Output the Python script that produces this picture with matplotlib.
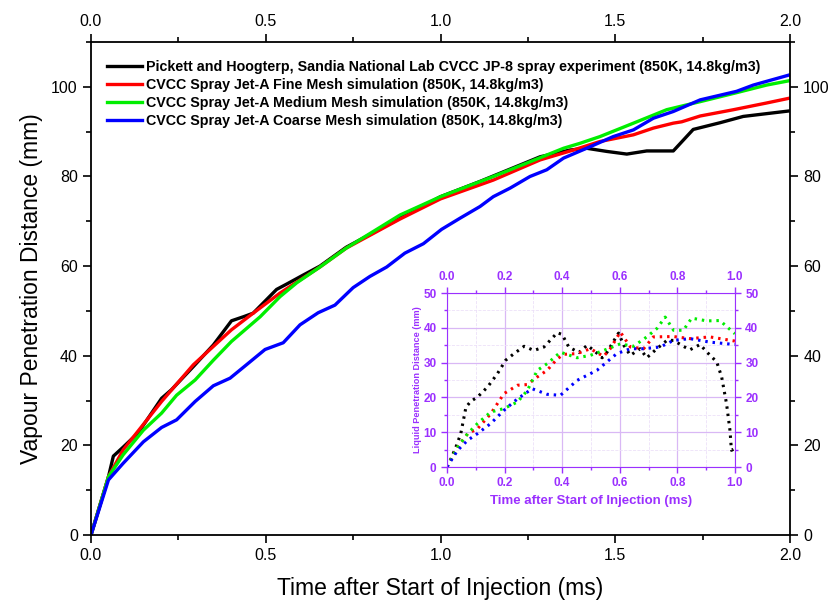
import numpy as np
import matplotlib
matplotlib.use("Agg")
import matplotlib.pyplot as plt
from matplotlib.ticker import MultipleLocator, FormatStrFormatter

plt.rcParams['font.family'] = ['Liberation Sans', 'DejaVu Sans']

# vapour penetration (main axes)
exp_t = [0.0, 0.05, 0.064, 0.092, 0.135, 0.202, 0.23, 0.293, 0.35, 0.402, 0.436, 0.464, 0.531, 0.56,
         0.607, 0.655, 0.73, 0.884, 1.0, 1.113, 1.285, 1.37, 1.418, 1.475, 1.533, 1.59, 1.666,
         1.723, 1.8, 1.866, 1.995]
exp_v = [0.0, 13.0, 17.6, 19.6, 22.8, 30.5, 32.4, 37.6, 42.4, 47.8, 48.7, 49.5, 54.8, 56.0,
         58.0, 60.0, 64.2, 70.7, 75.5, 78.9, 84.4, 85.9, 86.3, 85.6, 85.0, 85.7, 85.7,
         90.5, 92.0, 93.4, 94.6]

fine_t = [0.0, 0.05, 0.092, 0.202, 0.293, 0.402, 0.464, 0.541, 0.655, 0.73, 0.884, 1.0, 1.151,
          1.285, 1.38, 1.456, 1.552, 1.609, 1.666, 1.69, 1.743, 1.838, 1.933, 2.0]
fine_v = [0.0, 13.0, 19.0, 29.8, 38.0, 45.8, 49.5, 54.0, 59.8, 64.0, 70.5, 75.0, 79.2,
          83.7, 85.9, 87.8, 89.3, 90.8, 91.9, 92.2, 93.5, 94.9, 96.4, 97.5]

med_t = [0.0, 0.05, 0.092, 0.15, 0.202, 0.245, 0.298, 0.35, 0.402, 0.484, 0.541, 0.589, 0.655,
         0.73, 0.884, 1.0, 1.151, 1.247, 1.352, 1.399, 1.456, 1.552, 1.647, 1.743, 1.847, 1.933, 2.0]
med_v = [0.0, 13.0, 17.9, 23.4, 27.2, 31.2, 34.6, 39.0, 43.2, 48.7, 53.2, 56.3, 59.8,
         64.0, 71.4, 75.5, 80.0, 83.0, 86.3, 87.4, 88.9, 91.9, 94.9, 96.7, 98.7, 100.4, 101.4]

coarse_t = [0.0, 0.05, 0.092, 0.15, 0.202, 0.245, 0.298, 0.35, 0.398, 0.445, 0.498, 0.55, 0.598,
            0.65, 0.698, 0.75, 0.798, 0.846, 0.898, 0.951, 1.003, 1.056, 1.113, 1.151, 1.199,
            1.256, 1.304, 1.352, 1.418, 1.494, 1.552, 1.609, 1.666, 1.743, 1.847, 1.895, 2.0]
coarse_v = [0.0, 12.3, 16.0, 20.8, 24.0, 25.7, 29.8, 33.3, 35.0, 38.0, 41.4, 42.9, 46.9,
            49.6, 51.3, 55.2, 57.7, 59.8, 62.9, 65.0, 68.2, 70.7, 73.3, 75.5, 77.4,
            80.0, 81.5, 84.1, 86.3, 88.9, 90.4, 93.0, 94.5, 97.1, 99.0, 100.4, 102.7]

labels = ["Pickett and Hoogterp, Sandia National Lab CVCC JP-8 spray experiment (850K, 14.8kg/m3)",
          "CVCC Spray Jet-A Fine Mesh simulation (850K, 14.8kg/m3)",
          "CVCC Spray Jet-A Medium Mesh simulation (850K, 14.8kg/m3)",
          "CVCC Spray Jet-A Coarse Mesh simulation (850K, 14.8kg/m3)"]
colors = ["black", "#ff0000", "#00ee00", "#0000ff"]

# liquid penetration (inset)
liq_exp_t = [0.0, 0.014, 0.031, 0.048, 0.066, 0.083, 0.106, 0.141, 0.175, 0.204, 0.233, 0.268, 0.302,
             0.337, 0.383, 0.4, 0.423, 0.458, 0.487, 0.51, 0.539, 0.556, 0.579, 0.596, 0.614, 0.637,
             0.671, 0.694, 0.729, 0.764, 0.787, 0.821, 0.844, 0.879, 0.908, 0.937, 0.954, 0.971,
             0.983, 0.988, 1.0]
liq_exp_v = [0.0, 2.4, 5.7, 9.6, 17.2, 18.9, 20.1, 23.0, 26.8, 30.7, 32.6, 34.7, 33.5,
             34.5, 38.6, 38.1, 34.5, 32.9, 35.0, 33.5, 31.4, 33.0, 36.2, 38.5, 35.0, 32.1,
             34.0, 31.4, 34.0, 36.4, 36.4, 34.7, 33.7, 35.2, 32.6, 30.2, 25.9, 18.2,
             10.5, 4.8, 5.3]
liq_fine_t = [0.0, 0.037, 0.072, 0.106, 0.152, 0.198, 0.245, 0.279, 0.314, 0.348, 0.383, 0.406, 0.452,
              0.498, 0.544, 0.567, 0.602, 0.637, 0.683, 0.717, 0.787, 0.844, 0.913, 1.0]
liq_fine_v = [0.0, 5.7, 9.6, 11.0, 15.3, 21.1, 23.5, 23.7, 25.9, 27.8, 31.1, 32.4, 32.6,
              34.0, 31.8, 34.0, 38.8, 34.5, 34.0, 37.4, 37.5, 36.9, 37.4, 36.2]
liq_med_t = [0.0, 0.037, 0.072, 0.106, 0.152, 0.198, 0.245, 0.279, 0.314, 0.348, 0.394, 0.452, 0.498,
             0.544, 0.602, 0.648, 0.694, 0.729, 0.758, 0.787, 0.821, 0.85, 0.902, 0.948, 1.0]
liq_med_v = [0.0, 5.7, 9.6, 12.5, 15.8, 16.8, 18.7, 22.0, 27.8, 29.7, 33.0, 31.4, 32.1,
             33.5, 35.4, 34.7, 37.4, 39.8, 43.1, 39.3, 39.3, 42.8, 42.0, 42.1, 38.3]
liq_coarse_t = [0.0, 0.037, 0.072, 0.106, 0.152, 0.198, 0.245, 0.296, 0.348, 0.394, 0.452, 0.521, 0.59,
                0.637, 0.683, 0.741, 0.787, 0.844, 0.913, 1.0]
liq_coarse_v = [0.0, 4.8, 7.7, 9.6, 12.5, 16.3, 19.6, 22.5, 20.9, 20.6, 24.9, 27.8, 32.6,
                34.0, 34.0, 34.5, 36.4, 36.9, 35.9, 35.2]

fig = plt.figure(figsize=(8.37, 6.04), dpi=100)
ax = fig.add_axes([0.1087, 0.1142, 0.8352, 0.8162])

for t, v, lab, c in zip([exp_t, fine_t, med_t, coarse_t], [exp_v, fine_v, med_v, coarse_v], labels, colors):
    ax.plot(t, v, color=c, lw=2.4, label=lab)

ax.set_xlim(0, 2.0)
ax.set_ylim(0, 110)
ax.xaxis.set_major_locator(MultipleLocator(0.5))
ax.xaxis.set_minor_locator(MultipleLocator(0.25))
ax.yaxis.set_major_locator(MultipleLocator(20))
ax.yaxis.set_minor_locator(MultipleLocator(10))
ax.tick_params(which='both', direction='out', top=True, right=True,
               labeltop=True, labelright=True, labelsize=11.5, width=1.2)
ax.tick_params(which='major', length=6)
ax.tick_params(which='minor', length=3.5)
ax.xaxis.set_major_formatter(FormatStrFormatter('%.1f'))
for s in ax.spines.values():
    s.set_linewidth(1.3)
ax.set_xlabel("Time after Start of Injection (ms)", fontsize=16.5, labelpad=10)
ax.set_ylabel("Vapour Penetration Distance (mm)", fontsize=16.5, labelpad=6)
ax.legend(loc='upper left', frameon=False, prop={'weight': 'bold', 'size': 10.3},
          handlelength=2.4, handletextpad=0.3, labelspacing=0.28,
          borderaxespad=0.0, bbox_to_anchor=(0.015, 0.975))

# inset
purple = "#9b30ff"
ins = fig.add_axes([0.534, 0.2268, 0.344, 0.288])
for t, v, c in zip([liq_exp_t, liq_fine_t, liq_med_t, liq_coarse_t],
                   [liq_exp_v, liq_fine_v, liq_med_v, liq_coarse_v], colors):
    ins.plot(t, v, color=c, lw=2.2, ls=(0, (0.8, 1.6)))
ins.set_xlim(0, 1.0)
ins.set_ylim(0, 50)
ins.xaxis.set_major_locator(MultipleLocator(0.2))
ins.xaxis.set_minor_locator(MultipleLocator(0.1))
ins.yaxis.set_major_locator(MultipleLocator(10))
ins.yaxis.set_minor_locator(MultipleLocator(5))
ins.grid(which='major', color='#d9b8f5', lw=0.9)
ins.grid(which='minor', color='#ece0f8', lw=0.6, ls='--')
ins.tick_params(which='both', direction='out', top=True, right=True,
                labeltop=True, labelright=True, labelsize=8.5,
                colors=purple, width=1)
ins.tick_params(which='major', length=4)
ins.tick_params(which='minor', length=2)
ins.xaxis.set_major_formatter(FormatStrFormatter('%.1f'))
for lb in ins.get_xticklabels() + ins.get_yticklabels():
    lb.set_fontweight('bold')
for s in ins.spines.values():
    s.set_color(purple)
ins.set_xlabel("Time after Start of Injection (ms)", fontsize=9.5, fontweight='bold', color=purple)
ins.set_ylabel("Liquid Penetration Distance (mm)", fontsize=6.6, fontweight='bold', color=purple, labelpad=1)

fig.savefig("out.png", dpi=100)
